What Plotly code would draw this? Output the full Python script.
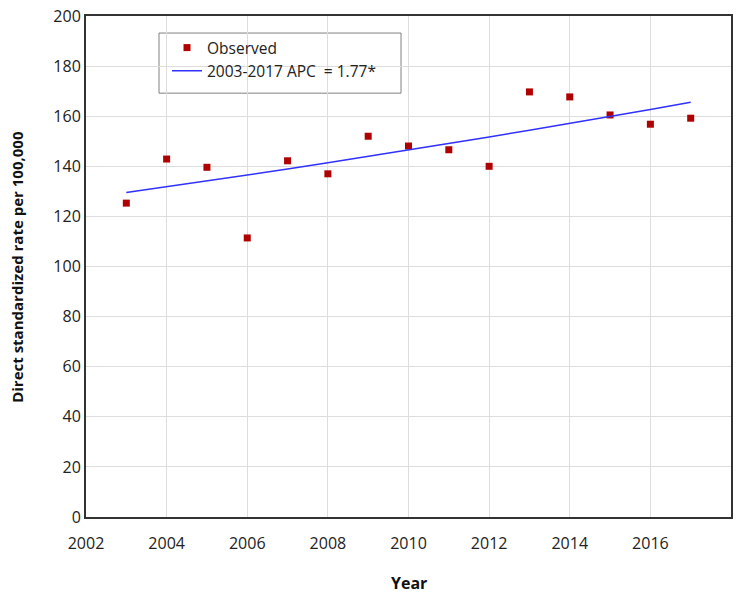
import plotly.graph_objects as go

years = [2003, 2004, 2005, 2006, 2007, 2008, 2009, 2010, 2011, 2012, 2013, 2014, 2015, 2016, 2017]
observed = [125.3, 142.9, 139.6, 111.4, 142.2, 137.0, 152.0, 148.1, 146.6, 140.0, 169.7, 167.7, 160.5, 156.8, 159.2]
fitted = [129.5, 131.8, 134.1, 136.5, 138.9, 141.4, 143.9, 146.4, 149.0, 151.7, 154.4, 157.1, 159.9, 162.7, 165.6]
x_ticks = [2002, 2004, 2006, 2008, 2010, 2012, 2014, 2016]
y_ticks = [0, 20, 40, 60, 80, 100, 120, 140, 160, 180, 200]

font = "Open Sans, Noto Sans, sans-serif"

fig = go.Figure()
fig.add_trace(go.Scatter(
    x=years, y=observed, mode="markers", name="Observed",
    marker=dict(symbol="square", size=7, color="#B00000"),
))
fig.add_trace(go.Scatter(
    x=years, y=fitted, mode="lines", name="2003-2017 APC  = 1.77*",
    line=dict(color="#3030FF", width=1.5),
))

# legend frame
fig.add_shape(type="rect", xref="paper", yref="paper",
              x0=0.1132, x1=0.4884, y0=0.846, y1=0.966,
              line=dict(color="#808080", width=1), fillcolor="white", layer="between")

# page body has an 8px margin, so the figure is sized 8px smaller
fig.update_layout(
    width=734, height=591,
    margin=dict(l=78, r=11, t=8, b=82, autoexpand=False),
    paper_bgcolor="white", plot_bgcolor="white",
    font=dict(family=font, size=16, color="#222222"),
    showlegend=True,
    legend=dict(
        x=0.1256, y=0.970, xanchor="left", yanchor="top",
        bgcolor="rgba(0,0,0,0)", borderwidth=0,
        font=dict(size=15.5, color="#222222"),
        itemwidth=30, tracegroupgap=0,
    ),
    xaxis=dict(
        range=[2002, 2018], tickvals=x_ticks, ticktext=[str(v) for v in x_ticks],
        showgrid=True, gridcolor="#DDDDDD", gridwidth=1,
        showline=True, linecolor="#333333", linewidth=2, mirror=True,
        zeroline=False, ticks="outside", ticklen=11, tickcolor="rgba(0,0,0,0)",
        automargin=False, ticklabeloverflow="allow",
    ),
    yaxis=dict(
        range=[0, 200], tickvals=y_ticks,
        showgrid=True, gridcolor="#DDDDDD", gridwidth=1,
        showline=True, linecolor="#333333", linewidth=2, mirror=True,
        zeroline=False, ticks="", ticklen=0,
        automargin=False, ticklabeloverflow="allow",
    ),
    annotations=[
        dict(text="<b>Year</b>", xref="paper", yref="paper", x=0.5, y=-0.1317,
             xanchor="center", yanchor="middle", showarrow=False,
             font=dict(size=16, color="#111111")),
        dict(text="<b>Direct standardized rate per 100,000</b>", xref="paper", yref="paper",
             x=-0.108, y=0.5, xanchor="center", yanchor="middle", showarrow=False,
             textangle=-90, font=dict(size=15, color="#111111")),
    ],
)

fig.write_html("out.html")
